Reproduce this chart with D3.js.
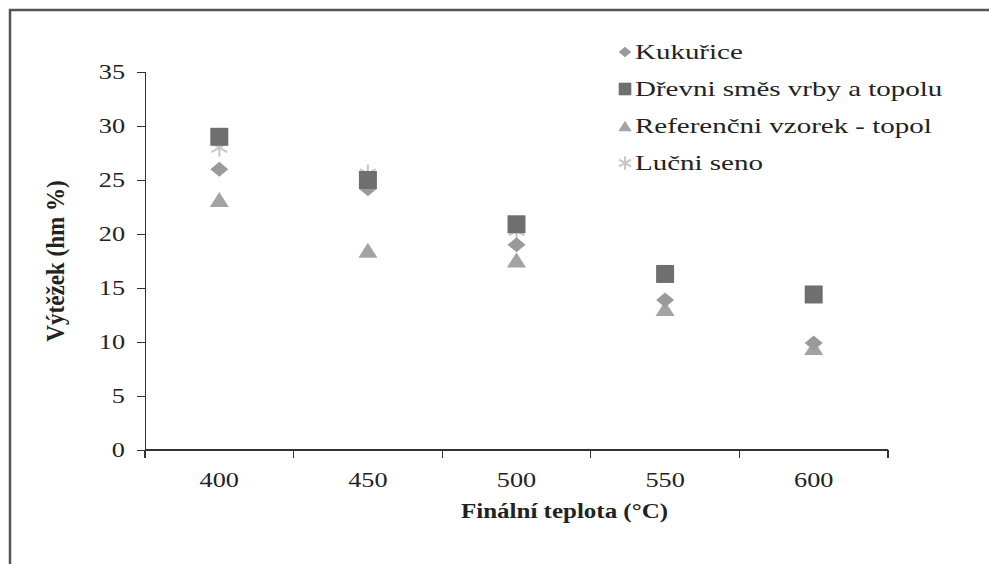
<!DOCTYPE html>
<html lang="cs">
<head>
<meta charset="UTF-8">
<title>Výtěžek</title>
<script src="https://d3js.org/d3.v7.min.js"></script>
<style>
  html, body { margin: 0; padding: 0; background: #fff; }
  text { font-family: "Liberation Serif", "DejaVu Serif", serif; fill: #222; }
  .axis path, .axis line { stroke: #333; stroke-width: 1.3px; shape-rendering: crispEdges; }
</style>
</head>
<body>
<script>
// data
var temps = ["400", "450", "500", "550", "600"];
var seriesNames = ["Kukuřice", "Dřevni směs vrby a topolu", "Referenčni vzorek - topol", "Lučni seno"];
var kukurice = [26, 24.2, 19, 13.9, 9.9];
var drevniSmes = [29, 25, 20.9, 16.3, 14.4];
var referencni = [23.2, 18.5, 17.6, 13.1, 9.5];
var lucniSeno = [28, 25.6, 20.3, null, null];
var yTicks = [0, 5, 10, 15, 20, 25, 30, 35];

var series = [
  { name: seriesNames[0], values: kukurice, shape: "diamond", w: 18, h: 15, color: "#9a9a9a" },
  { name: seriesNames[1], values: drevniSmes, shape: "square", w: 18, h: 18, color: "#6f6f6f" },
  { name: seriesNames[2], values: referencni, shape: "triangle", w: 19, h: 15, color: "#a3a3a3" },
  { name: seriesNames[3], values: lucniSeno, shape: "star", w: 18, h: 18, color: "#c6c6c6" }
];

var W = 989, H = 564;
var m = { left: 145, right: 888, top: 72, bottom: 450 };
var sx = 1.25; // the original's text is stretched sideways

var svg = d3.select("body").append("svg").attr("width", W).attr("height", H);

// outer frame
svg.append("rect").attr("x", 10).attr("y", 10).attr("width", 1000).attr("height", 600)
  .attr("fill", "none").attr("stroke", "#555").attr("stroke-width", 2.5);

var x = d3.scaleBand().domain(temps).range([m.left, m.right]);
var y = d3.scaleLinear().domain([0, 35]).range([m.bottom, m.top]);

// y axis
var yAxis = svg.append("g").attr("class", "axis")
  .attr("transform", "translate(" + m.left + ",0)")
  .call(d3.axisLeft(y).tickValues(yTicks).tickSizeOuter(0).tickSize(8).tickPadding(12));
yAxis.selectAll("text")
  .style("font-size", "21px").style("font-family", "Liberation Serif")
  .attr("x", -20 / sx).attr("transform", "scale(" + sx + ",1)");

// x axis with ticks on band edges
var xAxis = svg.append("g").attr("class", "axis")
  .attr("transform", "translate(0," + m.bottom + ")")
  .call(d3.axisBottom(x).tickSize(0).tickPadding(22));
xAxis.selectAll("text")
  .style("font-size", "21px").style("font-family", "Liberation Serif")
  .attr("transform", "scale(" + sx + ",1)");
xAxis.select(".domain").attr("d", "M" + m.left + ",0H" + m.right);
var edges = temps.map(function(t) { return x(t); }).concat([m.right]);
xAxis.selectAll(".edge").data(edges).enter().append("line")
  .attr("x1", function(d) { return d; }).attr("x2", function(d) { return d; })
  .attr("y1", 0).attr("y2", 8);

// axis titles
svg.append("text")
  .attr("transform", "translate(64," + ((m.top + m.bottom) / 2) + ") rotate(-90) scale(1.1,1.2)")
  .attr("text-anchor", "middle")
  .style("font-size", "21px").style("font-weight", "bold")
  .text("Výtěžek (hm %)");
svg.append("text")
  .attr("transform", "translate(" + ((m.left + m.right) / 2 + 48) + ",518) scale(" + sx + ",1)")
  .attr("text-anchor", "middle")
  .style("font-size", "20px").style("font-weight", "bold")
  .text("Finální teplota (°C)");

function markPath(shape, w, h) {
  var p = d3.path(), a = w / 2, b = h / 2;
  if (shape === "diamond") {
    p.moveTo(0, -b); p.lineTo(a, 0); p.lineTo(0, b); p.lineTo(-a, 0); p.closePath();
  } else if (shape === "square") {
    p.rect(-a, -b, w, h);
  } else if (shape === "triangle") {
    p.moveTo(0, -b); p.lineTo(a, b); p.lineTo(-a, b); p.closePath();
  }
  return p.toString();
}

function drawMark(g, s, cx, cy, k) {
  k = k || 1;
  if (s.shape === "star") {
    var r = s.w / 2 * k;
    [0, 60, 120].forEach(function(a) {
      var rad = a * Math.PI / 180;
      g.append("line")
        .attr("x1", cx - r * Math.sin(rad)).attr("y1", cy - r * Math.cos(rad))
        .attr("x2", cx + r * Math.sin(rad)).attr("y2", cy + r * Math.cos(rad))
        .attr("stroke", s.color).attr("stroke-width", 2);
    });
  } else {
    g.append("path")
      .attr("d", markPath(s.shape, s.w * k, s.h * k))
      .attr("transform", "translate(" + cx + "," + cy + ")")
      .attr("fill", s.color);
  }
}

// points, drawn last series first so squares sit on top like the original
var plot = svg.append("g");
[3, 2, 0, 1].forEach(function(i) {
  var s = series[i];
  s.values.forEach(function(v, j) {
    if (v == null) return;
    drawMark(plot, s, x(temps[j]) + x.bandwidth() / 2, y(v));
  });
});

// legend
var legend = svg.append("g").attr("transform", "translate(625,52)");
series.forEach(function(s, i) {
  var row = legend.append("g").attr("transform", "translate(0," + (i * 37) + ")");
  drawMark(row, s, 0, 0, s.shape === "star" ? 0.75 : 0.7);
  row.append("text").attr("transform", "translate(10,7) scale(1.38,1)")
    .style("font-size", "21px").text(s.name);
});
</script>
</body>
</html>
